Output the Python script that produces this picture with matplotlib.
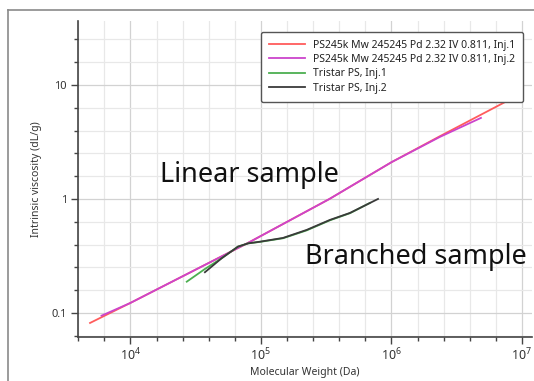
import numpy as np
import matplotlib
matplotlib.use("Agg")
import matplotlib.pyplot as plt
from matplotlib.lines import Line2D
from matplotlib.ticker import FixedLocator, FixedFormatter, NullFormatter

plt.rcParams['font.family'] = ['Noto Sans', 'DejaVu Sans']
plt.rcParams['mathtext.default'] = 'regular'

# %% data
ps_inj1_mw = [4900, 10000, 79400, 335000, 1000000, 2350000, 7530000]
ps_inj1_iv = [0.0817, 0.1225, 0.411, 1.0, 2.1, 3.55, 7.14]

ps_inj2_mw = [6000, 10000, 79400, 335000, 1000000, 2350000, 4850000]
ps_inj2_iv = [0.0946, 0.1225, 0.411, 1.0, 2.1, 3.5, 5.14]

tri_inj1_mw = [27000, 37200, 50000, 66700, 80000, 98200, 147600, 224000, 338000, 481000, 684000]
tri_inj1_iv = [0.188, 0.243, 0.302, 0.382, 0.408, 0.42, 0.452, 0.53, 0.65, 0.75, 0.923]

tri_inj2_mw = [37200, 50000, 66700, 80000, 98200, 147600, 224000, 338000, 481000, 789000]
tri_inj2_iv = [0.2276, 0.302, 0.382, 0.408, 0.4217, 0.455, 0.535, 0.655, 0.754, 1.0]

labels = ['PS245k Mw 245245 Pd 2.32 IV 0.811, Inj.1',
          'PS245k Mw 245245 Pd 2.32 IV 0.811, Inj.2',
          'Tristar PS, Inj.1',
          'Tristar PS, Inj.2']
colors = ['#ff5c5c', '#cc44cc', '#4caf50', '#3a3a3a']

x_major = [1e4, 1e5, 1e6, 1e7]
x_major_labels = ['$10^{4}$', '$10^{5}$', '$10^{6}$', '$10^{7}$']
y_major = [0.1, 1, 10]
y_major_labels = ['0.1', '1', '10']

# %% figure
W, H = 534, 381
fig = plt.figure(figsize=(W / 100, H / 100), dpi=100)
ax = fig.add_axes([78 / W, 1 - 337 / H, (532 - 78) / W, (337 - 21) / H])

series = [(ps_inj1_mw, ps_inj1_iv), (ps_inj2_mw, ps_inj2_iv),
          (tri_inj1_mw, tri_inj1_iv), (tri_inj2_mw, tri_inj2_iv)]
for (mw, iv), c, lab in zip(series, colors, labels):
    ax.plot(mw, iv, color=c, lw=1.3, label=lab, zorder=3)

ax.set_xscale('log')
ax.set_yscale('log')
ax.set_xlim(10 ** 3.598, 10 ** 7.077)
ax.set_ylim(10 ** -1.211, 10 ** 1.561)

ax.xaxis.set_major_locator(FixedLocator(x_major))
ax.xaxis.set_major_formatter(FixedFormatter(x_major_labels))
ax.yaxis.set_major_locator(FixedLocator(y_major))
ax.yaxis.set_major_formatter(FixedFormatter(y_major_labels))
ax.xaxis.set_minor_locator(FixedLocator(10 ** np.arange(3.6, 7.1, 0.2)))
ax.yaxis.set_minor_locator(FixedLocator(10 ** np.arange(-1.2, 1.6, 0.2)))
ax.xaxis.set_minor_formatter(NullFormatter())
ax.yaxis.set_minor_formatter(NullFormatter())

ax.grid(which='minor', color='#e8e8e8', lw=0.9, zorder=0)
ax.grid(which='major', color='#d2d2d2', lw=0.9, zorder=0)
ax.set_axisbelow(True)

ax.spines[['top', 'right']].set_visible(False)
for s in ['left', 'bottom']:
    ax.spines[s].set_color('#444444')
    ax.spines[s].set_linewidth(1.2)
ax.tick_params(which='major', length=5, width=1, color='#444444', labelsize=8, labelcolor='#333333', pad=3)
ax.tick_params(axis='x', which='major', labelsize=9, pad=2)
ax.tick_params(which='minor', length=3, width=1, color='#444444')

ax.set_ylabel('Intrinsic viscosity (dL/g)', fontsize=7.5, color='#333333', labelpad=7)
ax.set_xlabel('Molecular Weight (Da)', fontsize=7.5, color='#333333', labelpad=3)

leg = ax.legend(loc='upper right', bbox_to_anchor=((523 - 78) / (532 - 78), 1 - (32 - 21) / (337 - 21)),
                fontsize=7.5, frameon=True, fancybox=True, framealpha=1, edgecolor='#555555',
                handlelength=3.4, handletextpad=0.8, labelspacing=0.32, borderpad=0.75, borderaxespad=0)
leg.get_frame().set_linewidth(1.0)
for t in leg.get_texts():
    t.set_color('#222222')

fig.text(160 / W, 1 - 182 / H, 'Linear sample', fontsize=19.5, color='#111111', va='baseline')
fig.text(305 / W, 1 - 264 / H, 'Branched sample', fontsize=19.5, color='#111111', va='baseline')

# outer window frame
fig.add_artist(Line2D([8 / W, 1], [1 - 10 / H, 1 - 10 / H], transform=fig.transFigure, color='#8a8a8a', lw=1.2))
fig.add_artist(Line2D([8 / W, 8 / W], [0, 1 - 10 / H], transform=fig.transFigure, color='#8a8a8a', lw=1.2))

fig.savefig('out.png', dpi=100)
